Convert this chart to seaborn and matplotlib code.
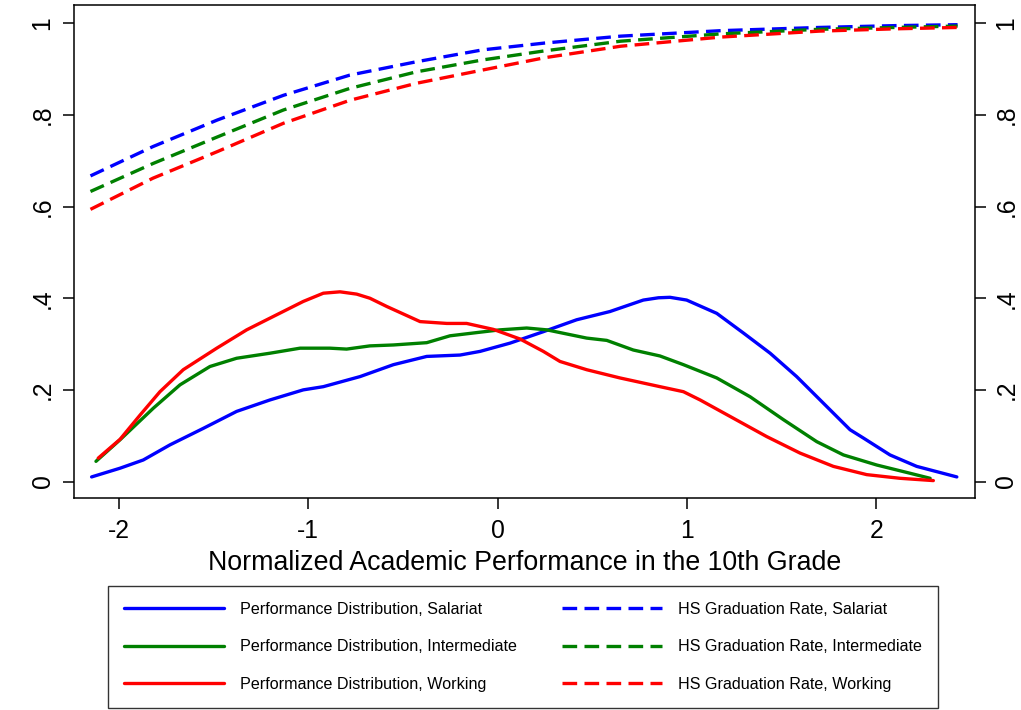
import pandas as pd
import seaborn as sns
import matplotlib.pyplot as plt

# Performance distribution (solid lines)
sal_x = [-2.144, -1.994, -1.871, -1.730, -1.554, -1.378, -1.202, -1.026, -0.920, -0.726,
         -0.550, -0.374, -0.198, -0.092, 0.066, 0.242, 0.418, 0.594, 0.770, 0.850, 0.911,
         0.999, 1.158, 1.299, 1.440, 1.580, 1.721, 1.862, 1.932, 2.073, 2.214, 2.426]
sal_y = [0.010, 0.029, 0.047, 0.080, 0.116, 0.153, 0.178, 0.200, 0.207, 0.229,
         0.255, 0.273, 0.276, 0.284, 0.302, 0.327, 0.353, 0.371, 0.396, 0.401, 0.402,
         0.396, 0.367, 0.324, 0.280, 0.229, 0.171, 0.113, 0.095, 0.058, 0.033, 0.010]

int_x = [-2.121, -1.994, -1.818, -1.677, -1.519, -1.378, -1.202, -1.043, -0.885, -0.797,
         -0.674, -0.550, -0.374, -0.251, -0.110, 0.013, 0.154, 0.260, 0.471, 0.577,
         0.717, 0.858, 0.982, 1.158, 1.334, 1.510, 1.686, 1.827, 2.003, 2.179, 2.285]
int_y = [0.044, 0.091, 0.160, 0.211, 0.251, 0.269, 0.280, 0.291, 0.291, 0.289,
         0.296, 0.298, 0.303, 0.318, 0.325, 0.331, 0.335, 0.331, 0.313, 0.308,
         0.287, 0.274, 0.255, 0.226, 0.185, 0.135, 0.087, 0.058, 0.036, 0.018, 0.007]

wrk_x = [-2.109, -1.994, -1.888, -1.783, -1.660, -1.483, -1.325, -1.166, -1.026, -0.920,
         -0.832, -0.744, -0.674, -0.585, -0.409, -0.268, -0.163, -0.022, 0.119, 0.242,
         0.330, 0.471, 0.647, 0.858, 0.982, 1.070, 1.246, 1.422, 1.598, 1.774,
         1.950, 2.126, 2.302]
wrk_y = [0.051, 0.092, 0.145, 0.196, 0.244, 0.291, 0.331, 0.364, 0.393, 0.411,
         0.414, 0.409, 0.400, 0.382, 0.349, 0.345, 0.345, 0.332, 0.311, 0.284,
         0.262, 0.244, 0.226, 0.207, 0.196, 0.178, 0.138, 0.098, 0.062, 0.033,
         0.015, 0.007, 0.002]

# HS graduation rate (dashed lines)
grad_x = [-2.15, -1.82, -1.48, -1.13, -0.78, -0.43, -0.08, 0.25, 0.65, 1.18, 1.70, 2.10, 2.43]
grad_sal = [0.667, 0.731, 0.789, 0.843, 0.887, 0.916, 0.942, 0.957, 0.972, 0.984, 0.991, 0.995, 0.997]
grad_int = [0.633, 0.694, 0.752, 0.811, 0.858, 0.894, 0.920, 0.940, 0.961, 0.977, 0.987, 0.991, 0.994]
grad_wrk = [0.594, 0.662, 0.720, 0.782, 0.832, 0.869, 0.898, 0.925, 0.950, 0.970, 0.983, 0.988, 0.991]

groups = ["Salariat", "Intermediate", "Working"]
colors = ["#0000ff", "#008000", "#ff0000"]
x_ticks = [-2, -1, 0, 1, 2]
x_ticklabels = ["-2", "-1", "0", "1", "2"]
y_ticks = [0, 0.2, 0.4, 0.6, 0.8, 1]
y_ticklabels = ["0", ".2", ".4", ".6", ".8", "1"]

sns.set_theme(style="ticks")
plt.rcParams["font.family"] = ["Liberation Sans", "DejaVu Sans"]
plt.rcParams["axes.unicode_minus"] = False
plt.rcParams["text.color"] = "black"
plt.rcParams["axes.labelcolor"] = "black"
plt.rcParams["xtick.labelcolor"] = "black"
plt.rcParams["ytick.labelcolor"] = "black"

fig = plt.figure(figsize=(10.21, 7.10), dpi=100)
ax = fig.add_axes([74 / 1021, 1 - 498 / 710, (975 - 74) / 1021, (498 - 5) / 710])

dens = [(sal_x, sal_y), (int_x, int_y), (wrk_x, wrk_y)]
grads = [grad_sal, grad_int, grad_wrk]

solid = []
for (xs, ys), g, c in zip(dens, groups, colors):
    df = pd.DataFrame({"x": xs, "y": ys})
    sns.lineplot(data=df, x="x", y="y", ax=ax, color=c, linewidth=2.4)
    solid.append(ax.get_lines()[-1])

dashed = []
for ys, g, c in zip(grads, groups, colors):
    df = pd.DataFrame({"x": grad_x, "y": ys})
    sns.lineplot(data=df, x="x", y="y", ax=ax, color=c, linewidth=2.4,
                 linestyle=(0, (4.4, 2.2)))
    dashed.append(ax.get_lines()[-1])

ax.set_xlim(-2.237, 2.522)
ax.set_ylim(-0.036, 1.04)
ax.set_xticks(x_ticks)
ax.set_xticklabels(x_ticklabels)
ax.set_yticks(y_ticks)
ax.set_yticklabels(y_ticklabels)

for s in ax.spines.values():
    s.set_color("black")
    s.set_linewidth(1.1)

ax.tick_params(axis="x", length=8, width=1.1, color="black", labelcolor="black",
               labelsize=17.8, pad=7)
ax.tick_params(axis="y", length=8, width=1.1, color="black", labelcolor="black",
               labelsize=17.8, pad=6, right=True, labelright=True, labelrotation=90)
for lab in ax.get_yticklabels():
    lab.set_va("center")

ax.set_xlabel("Normalized Academic Performance in the 10th Grade", fontsize=19.3,
              labelpad=5, color="black")
ax.set_ylabel("")

labels = ["Performance Distribution, " + g for g in groups] + \
         ["HS Graduation Rate, " + g for g in groups]
leg = fig.legend(solid + dashed, labels, loc="upper left",
                 bbox_to_anchor=(108 / 1021, 1 - 586 / 710), ncol=2,
                 fontsize=11.6, frameon=True, fancybox=False, edgecolor="black",
                 handlelength=6.2, handletextpad=1.0, columnspacing=2.8,
                 labelspacing=1.38, borderpad=1.0, borderaxespad=0)
leg.get_frame().set_linewidth(1.0)
for t in leg.get_texts():
    t.set_color("black")

fig.savefig("out.png", dpi=100)
